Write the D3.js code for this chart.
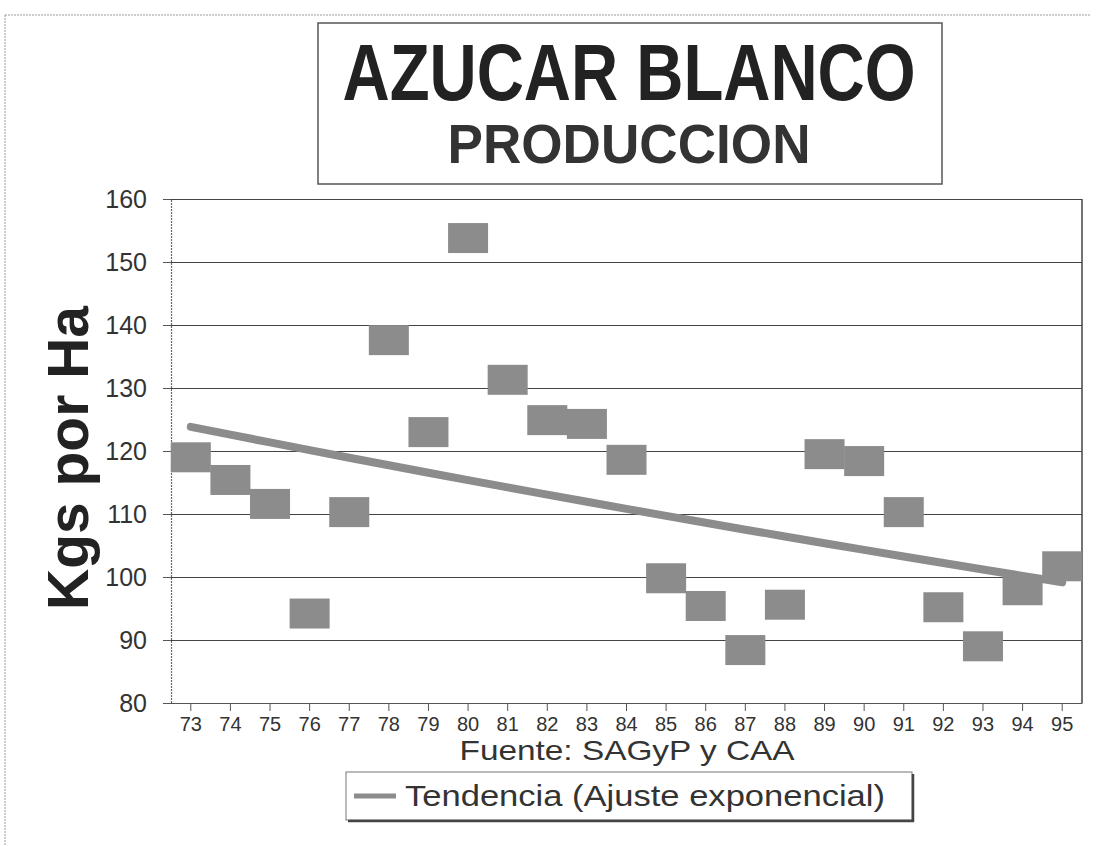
<!DOCTYPE html>
<html>
<head>
<meta charset="utf-8">
<script src="https://cdn.jsdelivr.net/npm/d3@7"></script>
<style>
  html, body { margin: 0; padding: 0; background: #ffffff; }
  svg { display: block; }
  text { font-family: "Liberation Sans", Arial, sans-serif; }
</style>
</head>
<body>
<svg id="chart" width="1096" height="846"></svg>
<script>
// ---- data ----
const years = ["73","74","75","76","77","78","79","80","81","82","83","84","85","86","87","88","89","90","91","92","93","94","95"];
const values = [119.0,115.4,111.6,94.2,110.3,137.6,123.0,153.8,131.3,124.9,124.3,118.6,99.8,95.4,88.4,95.6,119.5,118.4,110.3,95.2,89.0,97.9,101.7];
const yTicks = [80,90,100,110,120,130,140,150,160];
const titleMain = "AZUCAR BLANCO";
const titleSub = "PRODUCCION";
const yTitle = "Kgs por Ha";
const sourceText = "Fuente: SAGyP y CAA";
const legendText = "Tendencia (Ajuste exponencial)";

(function () {
// exponential trend (least squares on log values)
const n = values.length;
const idx = d3.range(n);
const lnv = values.map(v => Math.log(v));
const tMean = d3.mean(idx), lMean = d3.mean(lnv);
const b = d3.sum(idx, i => (i - tMean) * (lnv[i] - lMean)) / d3.sum(idx, i => (i - tMean) ** 2);
const a = lMean - b * tMean;
const trend = idx.map(i => Math.exp(a + b * i));

const svg = d3.select("#chart");
const pL = 171, pR = 1082, pT = 199, pB = 703;
const gray = "#8c8c8c";

const x = d3.scaleBand().domain(years).range([pL, pR]).padding(0);
const y = d3.scaleLinear().domain([80, 160]).range([pB, pT]);
const cx = d => x(d) + x.bandwidth() / 2;

// outer frame (dotted scan border)
svg.append("line").attr("x1", 5).attr("x2", 1090).attr("y1", 15).attr("y2", 15)
  .attr("stroke", "#9a9a9a").attr("stroke-width", 1).attr("stroke-dasharray", "2,1");
svg.append("line").attr("x1", 5).attr("x2", 5).attr("y1", 15).attr("y2", 846)
  .attr("stroke", "#9a9a9a").attr("stroke-width", 1).attr("stroke-dasharray", "2,1");

// title box
svg.append("rect").attr("x", 318).attr("y", 23).attr("width", 624).attr("height", 161)
  .attr("fill", "none").attr("stroke", "#555").attr("stroke-width", 1.5);
svg.append("text").attr("x", 629).attr("y", 100).attr("text-anchor", "middle")
  .attr("font-size", 80).attr("font-weight", "bold").attr("fill", "#222")
  .attr("textLength", 573).attr("lengthAdjust", "spacingAndGlyphs").text(titleMain);
svg.append("text").attr("x", 629).attr("y", 163).attr("text-anchor", "middle")
  .attr("font-size", 56).attr("font-weight", "bold").attr("fill", "#333")
  .attr("textLength", 363).attr("lengthAdjust", "spacingAndGlyphs").text(titleSub);

// gridlines
svg.append("g").attr("transform", `translate(${pL},0)`)
  .call(d3.axisLeft(y).tickValues(yTicks).tickSize(-(pR - pL)).tickFormat(""))
  .call(g => g.select(".domain").remove())
  .call(g => g.selectAll(".tick line").attr("stroke", "#444").attr("stroke-width", 1.2));

// y axis
svg.append("g").attr("transform", `translate(${pL},0)`)
  .call(d3.axisLeft(y).tickValues(yTicks).tickSize(8).tickPadding(16))
  .call(g => g.select(".domain").attr("stroke", "#666").attr("stroke-width", 1.2).attr("stroke-dasharray", "2,1"))
  .call(g => g.selectAll(".tick line").attr("stroke", "#555"))
  .call(g => g.selectAll(".tick text").attr("font-size", 25).attr("fill", "#333")
    .attr("font-family", "'Liberation Sans', Arial, sans-serif"));

// right border
svg.append("line").attr("x1", pR).attr("x2", pR).attr("y1", pT).attr("y2", pB)
  .attr("stroke", "#444").attr("stroke-width", 1.5);

// x axis
svg.append("g").attr("transform", `translate(0,${pB})`)
  .call(d3.axisBottom(x).tickSize(8).tickPadding(6).tickSizeOuter(0))
  .call(g => g.select(".domain").attr("stroke", "#555").attr("stroke-width", 1.2))
  .call(g => g.selectAll(".tick line").attr("stroke", "#555"))
  .call(g => g.selectAll(".tick text").attr("font-size", 20).attr("fill", "#333")
    .attr("font-family", "'Liberation Sans', Arial, sans-serif"));

// trend line
svg.append("path").datum(trend)
  .attr("d", d3.line().x((d, i) => cx(years[i])).y(d => y(d)))
  .attr("fill", "none").attr("stroke", gray).attr("stroke-width", 8).attr("stroke-linecap", "round");

// markers
const mw = 40, mh = 30;
svg.append("g").selectAll("rect").data(values).join("rect")
  .attr("x", (d, i) => cx(years[i]) - mw / 2)
  .attr("y", d => y(d) - mh / 2)
  .attr("width", mw).attr("height", mh)
  .attr("fill", gray);

// y title
svg.append("text").attr("transform", "translate(88,458) rotate(-90)")
  .attr("text-anchor", "middle").attr("font-size", 57).attr("font-weight", "bold")
  .attr("fill", "#222").text(yTitle);

// source
svg.append("text").attr("x", 627).attr("y", 760).attr("text-anchor", "middle")
  .attr("font-size", 28).attr("fill", "#333")
  .attr("textLength", 335).attr("lengthAdjust", "spacingAndGlyphs").text(sourceText);

// legend
const lg = svg.append("g");
lg.append("rect").attr("x", 346).attr("y", 772).attr("width", 566).attr("height", 48)
  .attr("fill", "#fff").attr("stroke", "#777").attr("stroke-width", 1);
lg.append("line").attr("x1", 348).attr("x2", 914).attr("y1", 821).attr("y2", 821)
  .attr("stroke", "#444").attr("stroke-width", 2.5);
lg.append("line").attr("x1", 913).attr("x2", 913).attr("y1", 774).attr("y2", 822)
  .attr("stroke", "#444").attr("stroke-width", 2.5);
lg.append("line").attr("x1", 354).attr("x2", 396).attr("y1", 796).attr("y2", 796)
  .attr("stroke", gray).attr("stroke-width", 5);
lg.append("text").attr("x", 405).attr("y", 806).attr("font-size", 29).attr("fill", "#333")
  .attr("textLength", 480).attr("lengthAdjust", "spacingAndGlyphs").text(legendText);
})();
</script>
</body>
</html>
